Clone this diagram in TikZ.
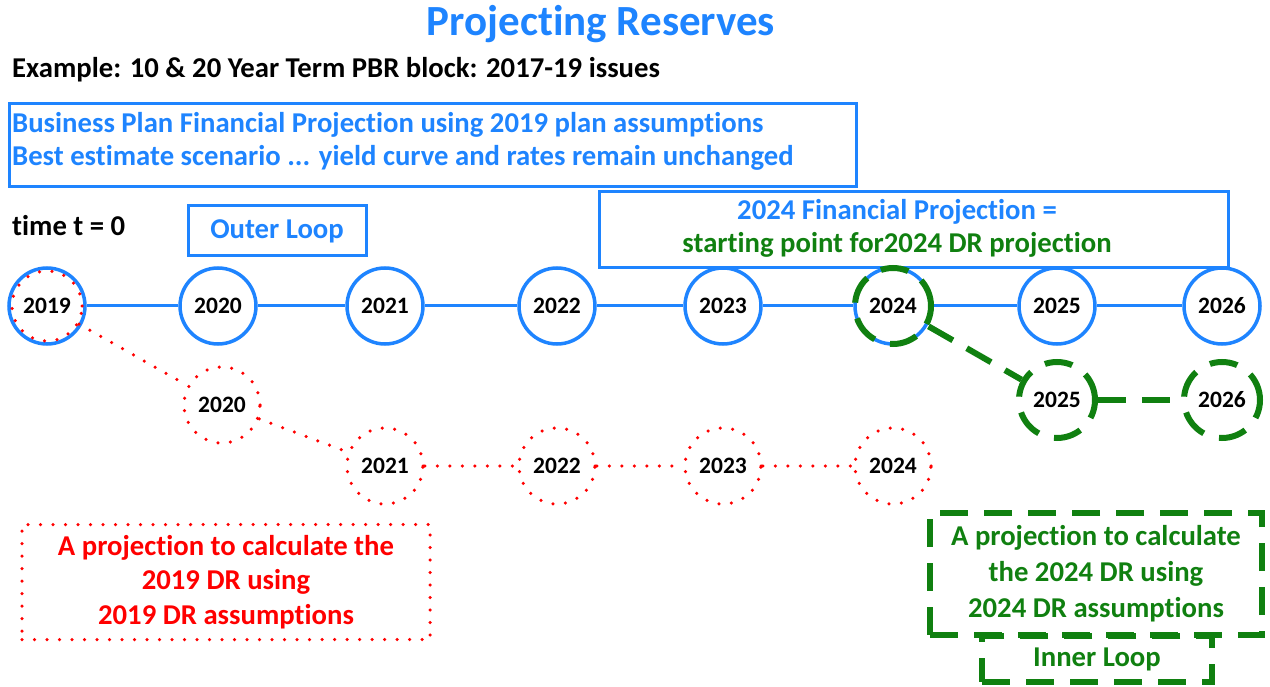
\documentclass[tikz,border=0pt]{standalone}
\usepackage{fontspec}
\setmainfont{Carlito}[Ligatures=NoCommon]
\definecolor{pblue}{RGB}{30,132,255}
\definecolor{pgreen}{RGB}{16,128,16}
\definecolor{pred}{RGB}{255,0,0}
\begin{document}
\begin{tikzpicture}[x=1pt,y=-1pt,
  every node/.style={font=\bfseries},
  fs/.style={font=\fontsize{#1}{\dimexpr #1pt*12/10\relax}\selectfont\bfseries},
  year/.style={circle,draw=pblue,line width=3.5pt,minimum size=76pt,inner sep=0pt,fill=white,fs=23.5},
  yearlink/.style={draw=pblue,line width=3pt},
  reddot/.style={draw=pred,line width=3.5pt,line cap=round,dash pattern=on 0pt off 12.5pt},
  redyear/.style={circle,reddot,minimum size=76pt,inner sep=0pt,fs=23.5},
  greendash/.style={draw=pgreen,line width=6pt,dash pattern=on 28pt off 16pt},
  greenyear/.style={circle,greendash,minimum size=76pt,inner sep=0pt,fs=23.5},
  bluebox/.style={draw=pblue,line width=3pt,inner sep=0pt},
  txt/.style={inner sep=0pt,fs=28.7}]
\useasboundingbox (0,0) rectangle (1270,687);

% heading
\node[inner sep=0pt,fs=43,text=pblue] (title) at (601,24) {Projecting Reserves};
\node[txt,anchor=west] (example) at (12,70) {Example: 10 \& 20 Year Term PBR block: 2017-19 issues};

% business plan box
\node[bluebox,minimum width=847pt,minimum height=83pt,anchor=north west] (plan) at (8,102) {};
\node[txt,anchor=west,text=pblue] (plan1) at (12,125) {Business Plan Financial Projection using 2019 plan assumptions};
\node[txt,anchor=west,text=pblue] (plan2) at (12,158) {Best estimate scenario ... yield curve and rates remain unchanged};

\node[txt,anchor=west] (time) at (12,226) {time t = 0};
\node[bluebox,minimum width=178pt,minimum height=50pt,text=pblue,fs=28.7] (outer) at (277,231) {Outer Loop};

% 2024 financial projection box
\node[bluebox,minimum width=629pt,minimum height=76pt,anchor=north west] (fin) at (598,190) {};
\node[txt,text=pblue] (fin1) at (897,212) {2024 Financial Projection =};
\node[txt,text=pgreen] (fin2) at (897,245) {starting point for2024 DR projection};

% outer loop timeline
\foreach \yr/\xx in {2019/47,2020/218,2021/385,2022/557,2023/723,2024/893,2025/1057,2026/1222}
  \node[year] (y\yr) at (\xx,306) {\yr};
\foreach \a/\b in {2019/2020,2020/2021,2021/2022,2022/2023,2023/2024,2024/2025,2025/2026}
  \draw[yearlink] (y\a) -- (y\b);

% 2019 DR projection (red dotted)
\node[redyear,minimum size=70pt] (r2019) at (47,306) {};
\node[redyear] (r2020) at (222,405) {2020};
\foreach \yr/\xx in {2021/385,2022/557,2023/723,2024/893}
  \node[redyear] (r\yr) at (\xx,466) {\yr};
\foreach \a/\b in {2019/2020,2020/2021,2021/2022,2022/2023,2023/2024}
  \draw[reddot] (r\a) -- (r\b);

% 2024 DR projection (green dashed)
\node[greenyear] (g2024) at (893,306) {};
\node[greenyear] (g2025) at (1057,400) {2025};
\node[greenyear] (g2026) at (1222,400) {2026};
\draw[greendash] (g2024) -- (g2025);
\draw[greendash] (g2025) -- (g2026);

% explanation boxes
\node[draw=pred,line width=3.5pt,line cap=round,dash pattern=on 0pt off 12.5pt,
  minimum width=408pt,minimum height=115pt,align=center,text=pred,fs=28.7] (redbox) at (226,582)
  {A projection to calculate the\\[0pt]2019 DR using\\[0pt]2019 DR assumptions};
\node[greendash,minimum width=332pt,minimum height=122pt,align=center,text=pgreen,fs=28.7] (greenbox) at (1096,574)
  {A projection to calculate\\[1.5pt]the 2024 DR using\\[1.5pt]2024 DR assumptions};
\node[greendash,minimum width=230pt,minimum height=46pt,text=pgreen,fs=28.7] (inner) at (1097,659) {Inner Loop};
\end{tikzpicture}
\end{document}
